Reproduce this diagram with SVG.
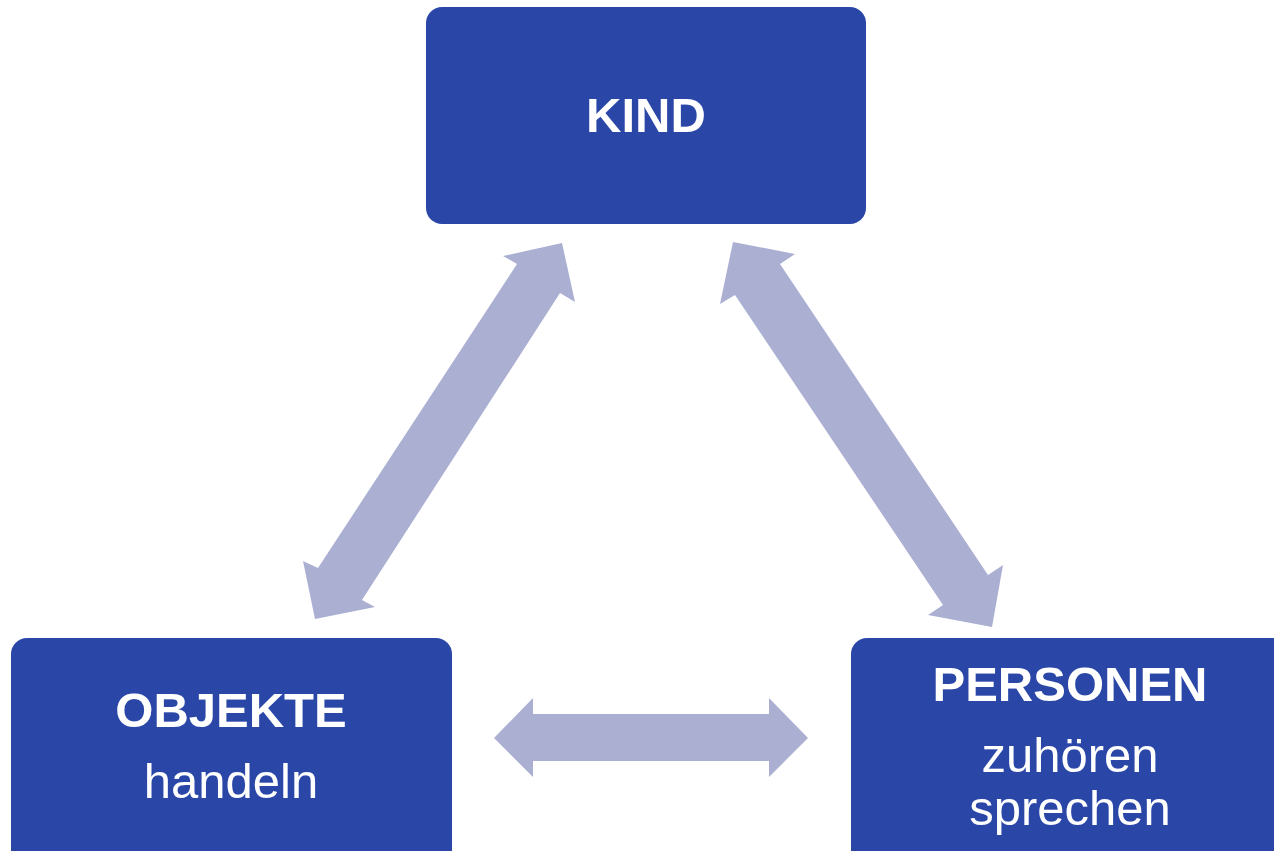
<svg xmlns="http://www.w3.org/2000/svg" width="1274" height="851" viewBox="0 0 1274 851">
<style>
.box{fill:#2A47A8}
.arr{fill:#ABB0D3}
.t{font-family:"Liberation Sans",Arial,sans-serif;fill:#fff;text-anchor:middle;font-size:49px}
.b{font-weight:bold}
</style>
<rect width="1274" height="851" fill="#fff"/>
<g id="connectors">
<polygon class="arr" points="562,243 575,302 560,293 362,600 375,607 315,619 303,561 318,568 517,264 503,256"/>
<polygon class="arr" points="733,242 795,254 780,264 988,575 1003,565 992,627 928,615 943,605 735,295 720,304"/>
<polygon class="arr" points="494,738 533,698 533,714 769,714 769,698 808,738 769,777 769,761 533,761 533,777"/>
</g>
<g id="kind">
<rect class="box" x="426" y="7" width="440" height="217" rx="16"/>
<text class="t b" x="646" y="132">KIND</text>
</g>
<g id="objekte">
<rect class="box" x="11" y="638" width="441" height="240" rx="16"/>
<text class="t b" x="231" y="727">OBJEKTE</text>
<text class="t" x="231" y="798">handeln</text>
</g>
<g id="personen">
<rect class="box" x="851" y="638" width="460" height="240" rx="16"/>
<text class="t b" x="1070" y="701">PERSONEN</text>
<text class="t" x="1070" y="772">zuhören</text>
<text class="t" x="1070" y="825">sprechen</text>
</g>
</svg>
